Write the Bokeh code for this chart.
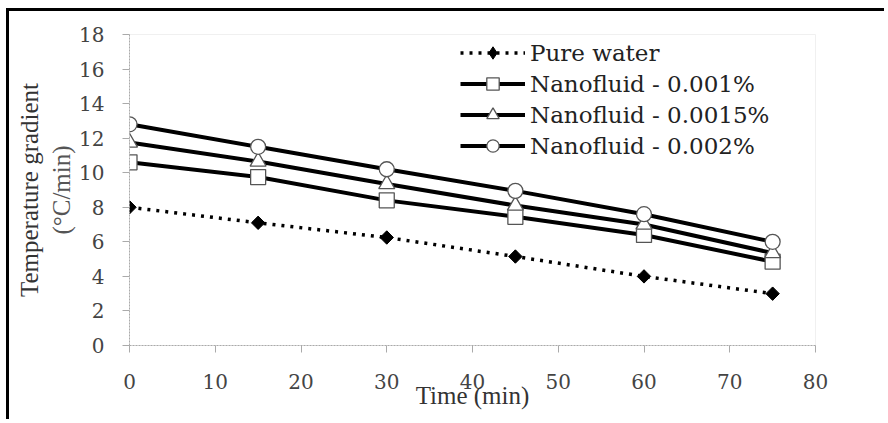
import math
from bokeh.plotting import figure
from bokeh.models import Legend, LegendItem, Range1d, FixedTicker, LinearAxis
from bokeh.embed import file_html
from bokeh.resources import INLINE

time_min = [0, 15, 30, 45, 60, 75]
pure_water = [8.0, 7.1, 6.25, 5.15, 4.0, 3.0]
nf_0001 = [10.6, 9.75, 8.4, 7.45, 6.4, 4.85]
nf_00015 = [11.75, 10.65, 9.35, 8.1, 7.0, 5.35]
nf_0002 = [12.8, 11.5, 10.2, 8.95, 7.6, 6.0]

x_ticks = [0, 10, 20, 30, 40, 50, 60, 70, 80]
y_ticks = [0, 2, 4, 6, 8, 10, 12, 14, 16, 18]

FONT = "Liberation Serif"
NUM_FONT = "DejaVu Serif"

p = figure(width=878, height=411, output_backend="svg", toolbar_location=None,
           x_range=Range1d(0, 80), y_range=Range1d(0, 18),
           min_border_left=120, min_border_right=72, min_border_top=23, min_border_bottom=77)
p.margin = (8, 0, 0, 6)
p.styles = {"border-top": "3px solid black", "border-left": "3px solid black"}

p.xgrid.visible = False
p.ygrid.visible = False
p.outline_line_color = "#f0f0f0"

for ax in (p.xaxis[0], p.yaxis[0]):
    ax.axis_line_color = "#aaaaaa"
    ax.axis_line_dash = "2 1"
    ax.major_tick_line_color = "#aaaaaa"
    ax.major_tick_out = 7
    ax.major_tick_in = 0
    ax.minor_tick_line_color = None
    ax.major_label_text_font = NUM_FONT
    ax.major_label_text_font_size = "20px"
    ax.major_label_text_color = "#444444"
    ax.axis_label_text_font = FONT
    ax.axis_label_text_font_size = "25px"
    ax.axis_label_text_font_style = "normal"

p.xaxis.major_label_standoff = 21
p.yaxis.major_label_standoff = 18

p.xaxis.ticker = FixedTicker(ticks=x_ticks)
p.yaxis.ticker = FixedTicker(ticks=y_ticks)

p.xaxis.axis_label = "Time (min)"
p.xaxis.axis_label_standoff = -10
p.xaxis.axis_label_text_color = "#333333"

p.yaxis.axis_label = "(°C/min)"
p.yaxis.axis_label_standoff = 1
p.yaxis.axis_label_text_color = "#555555"

outer_y = LinearAxis(ticker=FixedTicker(ticks=[]), axis_label="Temperature gradient",
                     axis_line_color=None, major_tick_out=0, major_tick_in=0,
                     minor_tick_line_color=None, major_label_standoff=0,
                     axis_label_standoff=3, axis_label_text_font=FONT,
                     axis_label_text_font_size="25px", axis_label_text_font_style="normal",
                     axis_label_text_color="#333333")
p.add_layout(outer_y, "left")

# series
r_pw_line = p.line(time_min, pure_water, line_color="black", line_width=3.5, line_dash="3 6")
r_pw_key = p.scatter(time_min, pure_water, marker="diamond", size=12,
                     fill_color="black", line_color="black")
p.scatter(time_min, pure_water, marker="square", size=9.5, angle=math.pi / 4,
          fill_color="black", line_color="black")

r1_line = p.line(time_min, nf_0001, line_color="black", line_width=4)
r1_mk = p.scatter(time_min, nf_0001, marker="square", size=15, fill_color="white",
                  line_color="#555555", line_width=1.3)

r2_line = p.line(time_min, nf_00015, line_color="black", line_width=4)
r2_mk = p.scatter(time_min, nf_00015, marker="triangle", size=16, fill_color="white",
                  line_color="#555555", line_width=1.3)

r3_line = p.line(time_min, nf_0002, line_color="black", line_width=4)
r3_mk = p.scatter(time_min, nf_0002, marker="circle", size=15, fill_color="white",
                  line_color="#555555", line_width=1.3)

legend = Legend(items=[
    LegendItem(label="Pure water", renderers=[r_pw_line, r_pw_key]),
    LegendItem(label="Nanofluid - 0.001%", renderers=[r1_line, r1_mk]),
    LegendItem(label="Nanofluid - 0.0015%", renderers=[r2_line, r2_mk]),
    LegendItem(label="Nanofluid - 0.002%", renderers=[r3_line, r3_mk]),
], location=(331, 184), padding=0, margin=0, spacing=0,
    glyph_width=65, glyph_height=31, label_height=31, label_standoff=5,
    label_text_font=NUM_FONT, label_text_font_size="23px",
    label_text_color="#222222",
    border_line_alpha=0, background_fill_alpha=0)
p.add_layout(legend)

open("out.html", "w").write(file_html(p, INLINE))
